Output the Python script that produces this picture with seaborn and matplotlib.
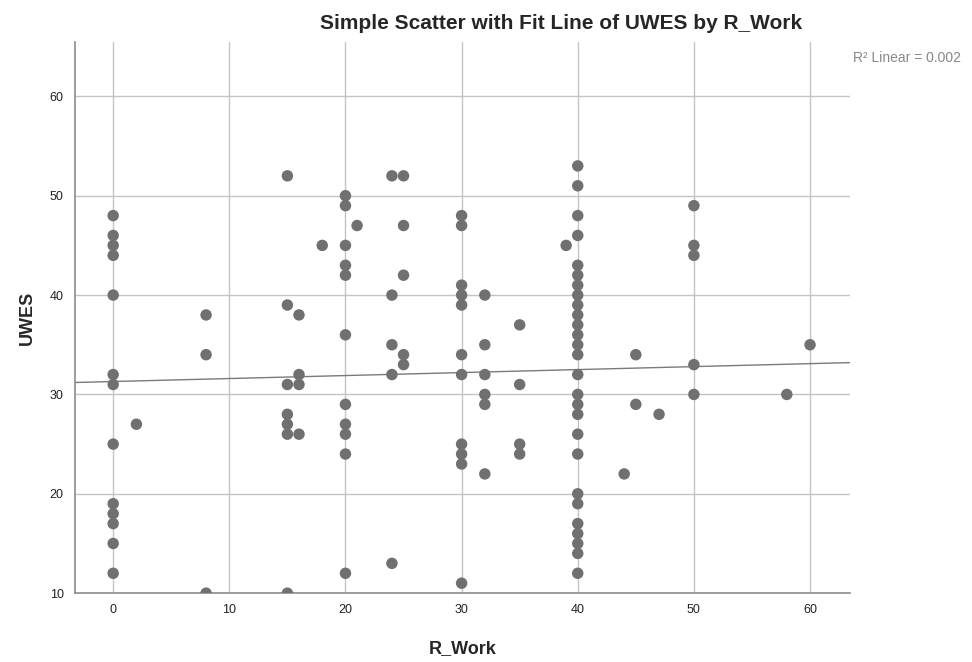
import numpy as np
import pandas as pd
import matplotlib
matplotlib.use("Agg")
import matplotlib.pyplot as plt
import seaborn as sns

# Data (R_Work group -> UWES values)
work_0 = [48, 46, 45, 44, 40, 32, 31, 25, 19, 18, 17, 15, 12]
work_2 = [27]
work_8 = [38, 34, 10]
work_15 = [52, 39, 31, 28, 27, 26, 10]
work_16 = [38, 32, 31, 26]
work_18 = [45]
work_20 = [50, 49, 45, 43, 42, 36, 29, 27, 26, 24, 12]
work_21 = [47]
work_24 = [52, 40, 35, 32, 13]
work_25 = [52, 47, 42, 34, 33]
work_30 = [48, 47, 41, 40, 39, 34, 32, 25, 24, 23, 11]
work_32 = [40, 35, 32, 30, 29, 22]
work_35 = [37, 31, 25, 24]
work_39 = [45]
work_40 = [53, 51, 48, 46, 43, 42, 41, 40, 39, 38, 37, 36, 35, 34, 32,
           30, 29, 28, 26, 24, 20, 19, 17, 16, 15, 14, 12]
work_44 = [22]
work_45 = [34, 29]
work_47 = [28]
work_50 = [49, 45, 44, 33, 30]
work_58 = [30]
work_60 = [35]

groups = {0: work_0, 2: work_2, 8: work_8, 15: work_15, 16: work_16, 18: work_18,
          20: work_20, 21: work_21, 24: work_24, 25: work_25, 30: work_30,
          32: work_32, 35: work_35, 39: work_39, 40: work_40, 44: work_44,
          45: work_45, 47: work_47, 50: work_50, 58: work_58, 60: work_60}

# Fit line (overlapping points hide duplicates)
fit_intercept = 31.3
fit_slope = 0.030

x_ticks = [0, 10, 20, 30, 40, 50, 60]
y_ticks = [10, 20, 30, 40, 50, 60]
title = "Simple Scatter with Fit Line of UWES by R_Work"
r2_label = "R² Linear = 0.002"

rows = [(k, v) for k, vals in groups.items() for v in vals]
df = pd.DataFrame(rows, columns=["R_Work", "UWES"])

sns.set_theme(style="white")
plt.rcParams['font.family'] = ['Liberation Sans', 'DejaVu Sans']

fig = plt.figure(figsize=(9.72, 6.62), dpi=100)
ax = fig.add_axes([0.077, 0.104, 0.797, 0.833])
ax.set_xlim(-3.3, 63.4)
ax.set_ylim(10, 65.5)

grid_c = "#c4c4c4"
ax.set_xticks(x_ticks)
ax.set_yticks(y_ticks)
ax.grid(True, color=grid_c, linewidth=1.0)
ax.set_axisbelow(True)

sns.regplot(data=df, x="R_Work", y="UWES", ax=ax, fit_reg=False,
            scatter_kws=dict(s=68, color="#707070", edgecolor="none", alpha=1, zorder=3))
ax.axline((0, fit_intercept), slope=fit_slope, color="#7a7a7a", linewidth=1.0, zorder=2)

for s in ["top", "right"]:
    ax.spines[s].set_visible(False)
for s in ["left", "bottom"]:
    ax.spines[s].set_color("#8c8c8c")
    ax.spines[s].set_linewidth(1.2)

ax.tick_params(length=0, labelsize=9, colors="#222222", pad=8)
ax.set_xlabel("R_Work", fontsize=13, fontweight="bold", labelpad=17)
ax.set_ylabel("UWES", fontsize=13, fontweight="bold", labelpad=10)

fig.text(0.577, 0.965, title, ha="center", va="center", fontsize=15, fontweight="bold")
fig.text(0.878, 0.913, r2_label, ha="left", va="center", fontsize=10, color="#888888")

fig.savefig("out.png", dpi=100)
